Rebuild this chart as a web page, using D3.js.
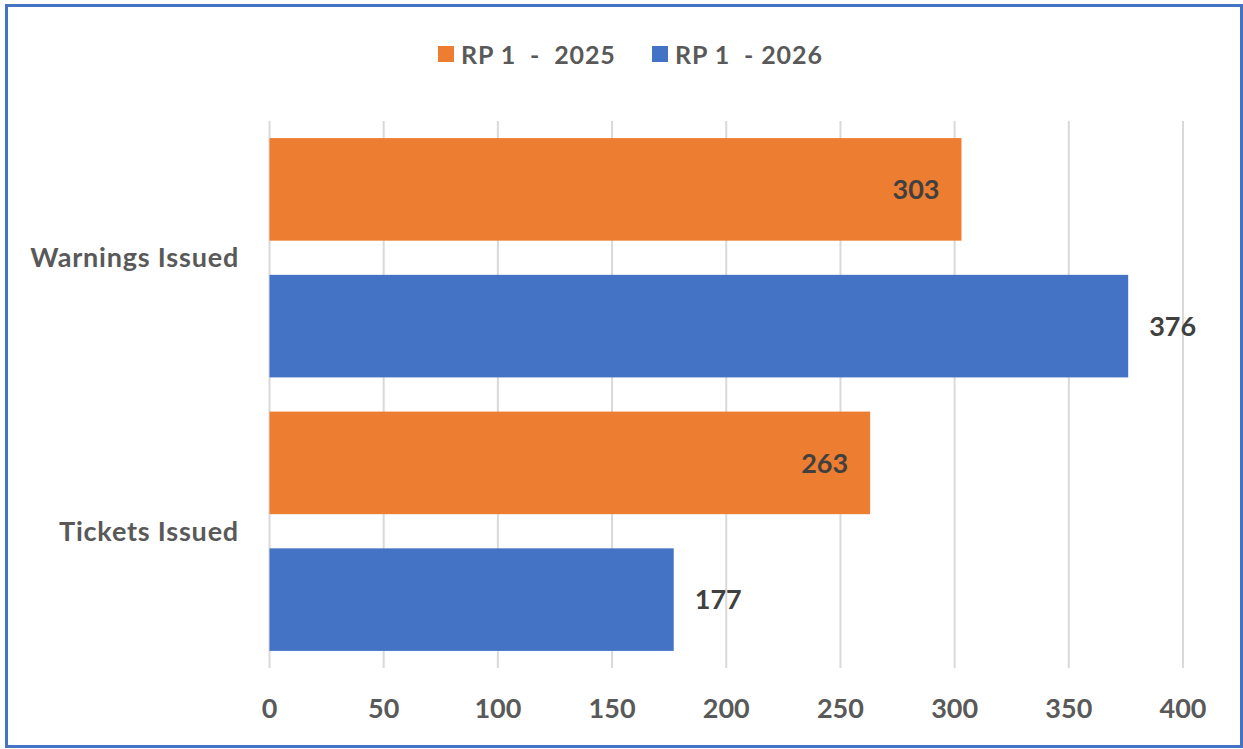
<!DOCTYPE html>
<html>
<head>
<meta charset="utf-8">
<script src="https://cdn.jsdelivr.net/npm/d3@7"></script>
<style>
  html, body { margin: 0; padding: 0; background: #fff; }
  svg text { font-family: Lato, "Open Sans", sans-serif; font-weight: bold; }
</style>
</head>
<body>
<svg id="svg" width="1243" height="749"></svg>
<script>
const width = 1243;
const height = 749;

// data
const categories = ["Warnings Issued", "Tickets Issued"];
const seriesNames = ["RP 1  -  2025", "RP 1  - 2026"];
const values2025 = [303, 263];
const values2026 = [376, 177];
const xTicks = [0, 50, 100, 150, 200, 250, 300, 350, 400];

const colors = ["#ED7D31", "#4472C4"];
const series = [values2025, values2026];

let svg = d3.select("#svg");

// outer frame
svg.append("rect")
  .attr("x", 6.5)
  .attr("y", 5.5)
  .attr("width", width - 8)
  .attr("height", height - 8)
  .attr("fill", "none")
  .attr("stroke", "#4472C4")
  .attr("stroke-width", 3);

const x = d3.scaleLinear().domain([0, 400]).range([269.5, 1183]);
const y = d3.scaleBand().domain(categories).range([121, 668]);
const ySub = d3
  .scaleBand()
  .domain([0, 1])
  .range([0, y.bandwidth()])
  .paddingInner(0.25)
  .paddingOuter(0.125);

// gridlines
svg.append("g")
  .selectAll("line")
  .data(xTicks)
  .enter()
  .append("line")
  .attr("x1", (d) => x(d))
  .attr("x2", (d) => x(d))
  .attr("y1", 121)
  .attr("y2", 668)
  .attr("stroke", "#D9D9D9")
  .attr("stroke-width", 2);

// tick labels
svg.append("g")
  .selectAll("text")
  .data(xTicks)
  .enter()
  .append("text")
  .attr("x", (d) => x(d))
  .attr("y", 708)
  .attr("dy", "0.36em")
  .attr("text-anchor", "middle")
  .attr("fill", "#595959")
  .attr("font-size", 27)
  .text((d) => d);

// category labels
svg.append("g")
  .selectAll("text")
  .data(categories)
  .enter()
  .append("text")
  .attr("x", 239)
  .attr("y", (d) => y(d) + y.bandwidth() / 2)
  .attr("dy", "0.36em")
  .attr("text-anchor", "end")
  .attr("fill", "#595959")
  .attr("font-size", 27)
  .attr("letter-spacing", 0.8)
  .text((d) => d);

// bars and labels
series.forEach((vals, si) => {
  let g = svg.append("g");
  g.selectAll("rect")
    .data(vals)
    .enter()
    .append("rect")
    .attr("x", x(0))
    .attr("y", (d, i) => y(categories[i]) + ySub(si))
    .attr("width", (d) => x(d) - x(0))
    .attr("height", ySub.bandwidth())
    .attr("fill", colors[si]);

  g.selectAll("text")
    .data(vals)
    .enter()
    .append("text")
    .attr("x", (d) => (si === 0 ? x(d) - 22 : x(d) + 21))
    .attr("y", (d, i) => y(categories[i]) + ySub(si) + ySub.bandwidth() / 2)
    .attr("dy", "0.36em")
    .attr("text-anchor", si === 0 ? "end" : "start")
    .attr("fill", "#404040")
    .attr("font-size", 27)
    .text((d) => d);
});

// legend
const legendX = [438, 652];
let legend = svg.append("g");
seriesNames.forEach((name, i) => {
  legend.append("rect")
    .attr("x", legendX[i])
    .attr("y", 46)
    .attr("width", 16)
    .attr("height", 16)
    .attr("fill", colors[i]);
  legend.append("text")
    .attr("x", legendX[i] + 23)
    .attr("y", 55)
    .attr("dy", "0.36em")
    .attr("fill", "#595959")
    .attr("font-size", 25)
    .attr("letter-spacing", 0.9)
    .style("white-space", "pre")
    .text(name);
});
</script>
</body>
</html>
